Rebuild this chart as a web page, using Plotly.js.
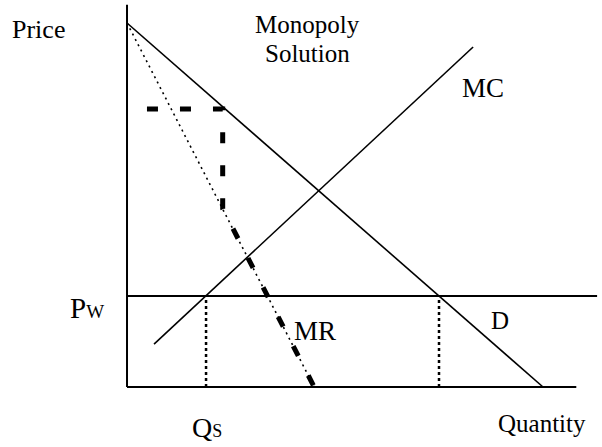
<!DOCTYPE html>
<html>
<head>
<meta charset="utf-8">
<script src="https://cdn.plot.ly/plotly-3.0.1.min.js"></script>
<style>html,body{margin:0;padding:0;background:#fff;}#chart{width:602px;height:447px;}</style>
</head>
<body>
<div id="chart"></div>
<script>
// Economic model values (Quantity, Price)
const priceAxisQ = [0, 0];
const priceAxisP = [0, 105];
const quantityAxisQ = [0, 108];
const quantityAxisP = [0, 0];
const demandQ = [0, 100];
const demandP = [100, 0];
const mrQ = [0, 45];
const mrP = [100, 0];
const mcQ = [6.5, 83.2];
const mcP = [11.8, 93.4];
const worldPrice = 25;
const worldLineQ = [0, 113];
const supplyQ = 19;   // Qs
const demandQw = 75;  // quantity demanded at Pw
const monoPathQ = [4.8, 23, 23, 45];
const monoPathP = [76.4, 76.4, 49, 0];

const black = '#000';
function line(x, y, width, dash) {
  return {x: x, y: y, type: 'scatter', mode: 'lines', hoverinfo: 'skip',
          line: {color: black, width: width, dash: dash || 'solid'}};
}
const traces = [
  line(priceAxisQ, priceAxisP, 2),
  line(quantityAxisQ, quantityAxisP, 2),
  line(worldLineQ, [worldPrice, worldPrice], 2),
  line(demandQ, demandP, 1.6),
  line(mcQ, mcP, 1.6),
  line(mrQ, mrP, 1.6, '2px,4px'),
  line([supplyQ, supplyQ], [0, worldPrice], 2.5, '3px,3px'),
  line([demandQw, demandQw], [0, worldPrice], 2.5, '3px,3px'),
  line(monoPathQ, monoPathP, 5, '11px,22px')
];

const fam = '"Liberation Serif", "Times New Roman", serif';
function ann(text, q, p, size, xanchor) {
  return {text: text, x: q, y: p, xref: 'x', yref: 'y', showarrow: false,
          xanchor: xanchor || 'left', yanchor: 'middle', borderpad: 0,
          font: {family: fam, size: size, color: black}};
}
const annotations = [
  ann('Price', -28.0, 98.1, 26),
  ann('Monopoly', 43.5, 99.7, 25, 'center'),
  ann('Solution', 43.5, 91.6, 25, 'center'),
  ann('MC', 80.3, 82.1, 27),
  ann('MR', 40.0, 15.5, 27),
  ann('D', 87.2, 18.4, 25),
  ann('P<span style="font-size:19px">W</span>', -14.0, 21.7, 29),
  ann('Q<span style="font-size:18px">S</span>', 15.3, -11.1, 28),
  ann('Quantity', 99.8, -9.9, 25, 'center')
];

const layout = {
  width: 602, height: 447,
  margin: {l: 0, r: 0, t: 0, b: 0},
  paper_bgcolor: '#fff', plot_bgcolor: '#fff',
  showlegend: false,
  xaxis: {range: [-30.53, 114.18], visible: false, fixedrange: true},
  yaxis: {range: [-16.48, 106.32], visible: false, fixedrange: true},
  annotations: annotations
};
Plotly.newPlot('chart', traces, layout, {staticPlot: true});
</script>
</body>
</html>
